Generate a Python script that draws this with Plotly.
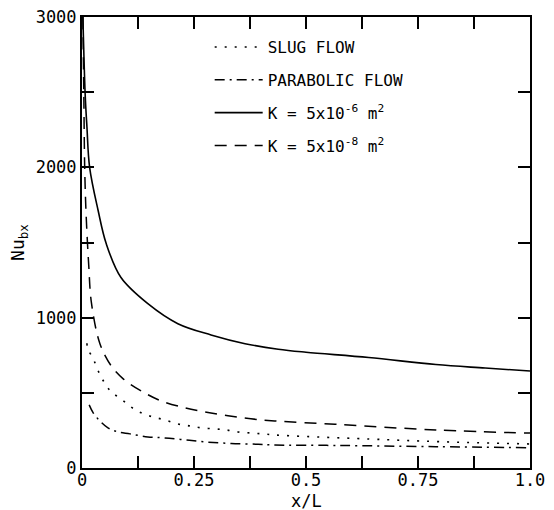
import plotly.graph_objects as go

# Data
x_solid = [0.002, 0.007, 0.011, 0.017, 0.036, 0.054, 0.087, 0.147, 0.214, 0.288, 0.364, 0.438, 0.5, 0.64, 0.79, 0.9, 1.0]
y_solid = [3000, 2490, 2270, 2000, 1713, 1493, 1267, 1093, 960, 885, 827, 790, 770, 735, 688, 665, 645]

x_dash = [0.002, 0.004, 0.006, 0.009, 0.015, 0.021, 0.04, 0.065, 0.092, 0.132, 0.176, 0.23, 0.274, 0.326, 0.377, 0.43, 0.57, 0.79, 1.0]
y_dash = [3000, 2500, 2000, 1700, 1350, 1100, 827, 680, 593, 513, 447, 400, 373, 347, 327, 313, 290, 253, 232]

x_dot = [0.011, 0.013, 0.025, 0.036, 0.049, 0.065, 0.087, 0.109, 0.132, 0.158, 0.185, 0.214, 0.241, 0.266, 0.297, 0.322, 0.348, 0.377, 0.404, 0.43, 0.64, 0.8, 1.0]
y_dot = [830, 793, 727, 647, 573, 507, 460, 407, 367, 340, 320, 293, 280, 267, 260, 253, 240, 233, 227, 220, 193, 175, 160]

x_dashdot = [0.016, 0.025, 0.04, 0.058, 0.08, 0.107, 0.147, 0.185, 0.23, 0.277, 0.333, 0.393, 0.43, 0.57, 0.79, 1.0]
y_dashdot = [420, 367, 313, 267, 240, 227, 207, 200, 187, 173, 163, 158, 153, 150, 142, 135]

x_ticks = [0, 0.25, 0.5, 0.75, 1.0]
x_ticklabels = ["0", "0.25", "0.5", "0.75", "1.0"]
y_ticks = [0, 1000, 2000, 3000]
y_ticklabels = ["0", "1000", "2000", "3000"]

names = ["SLUG FLOW", "PARABOLIC FLOW",
         "K = 5x10<sup>-6</sup> m<sup>2</sup>",
         "K = 5x10<sup>-8</sup> m<sup>2</sup>"]
x_title = "x/L"
y_title = "Nu<sub>bx</sub>"

fig = go.Figure()
common = dict(mode="lines", line_shape="spline")
fig.add_trace(go.Scatter(x=x_dot, y=y_dot, name=names[0], legendgroup="a",
                         line=dict(color="black", width=1.6, dash="2px,8px"), **common))
fig.add_trace(go.Scatter(x=x_dashdot, y=y_dashdot, name=names[1], legendgroup="b",
                         line=dict(color="black", width=1.5, dash="10px,5px,2px,5px"), **common))
fig.add_trace(go.Scatter(x=x_solid, y=y_solid, name=names[2], legendgroup="c",
                         line=dict(color="black", width=1.6), **common))
fig.add_trace(go.Scatter(x=x_dash, y=y_dash, name=names[3], legendgroup="d",
                         line=dict(color="black", width=1.5, dash="12px,8px"), **common))

mono = "DejaVu Sans Mono"
font = dict(family=mono, size=17, color="black")

fig.update_layout(
    width=554, height=510,
    margin=dict(l=82, r=24, t=17, b=42),
    paper_bgcolor="white", plot_bgcolor="white",
    font=font,
    showlegend=True,
    legend=dict(x=0.285, y=0.971, xanchor="left", yanchor="top",
                bgcolor="rgba(0,0,0,0)", tracegroupgap=9, itemwidth=48,
                font=dict(family=mono, size=16, color="black")),
    xaxis=dict(range=[0, 1.0], tickvals=x_ticks, ticktext=x_ticklabels,
               automargin=False, ticklabelstandoff=-4,
               showgrid=False, zeroline=False, showline=True, linecolor="black",
               linewidth=2, mirror="ticks", ticks="inside", ticklen=12,
               tickwidth=1.5, tickcolor="black",
               minor=dict(dtick=0.125, ticks="inside", ticklen=12, tickwidth=1.5,
                          tickcolor="black", showgrid=False)),
    yaxis=dict(range=[0, 3000], tickvals=y_ticks, ticktext=y_ticklabels,
               automargin=False,
               showgrid=False, zeroline=False, showline=True, linecolor="black",
               linewidth=2, mirror="ticks", ticks="inside", ticklen=12,
               tickwidth=1.5, tickcolor="black",
               minor=dict(dtick=500, ticks="inside", ticklen=12, tickwidth=1.5,
                          tickcolor="black", showgrid=False),
               title=dict(text=y_title, font=dict(family=mono, size=18, color="black"),
                          standoff=6)),
    annotations=[dict(text=x_title, xref="paper", yref="paper", x=0.5, y=-0.073,
                      xanchor="center", yanchor="middle", showarrow=False, font=font)],
)

fig.write_html("out.html")
